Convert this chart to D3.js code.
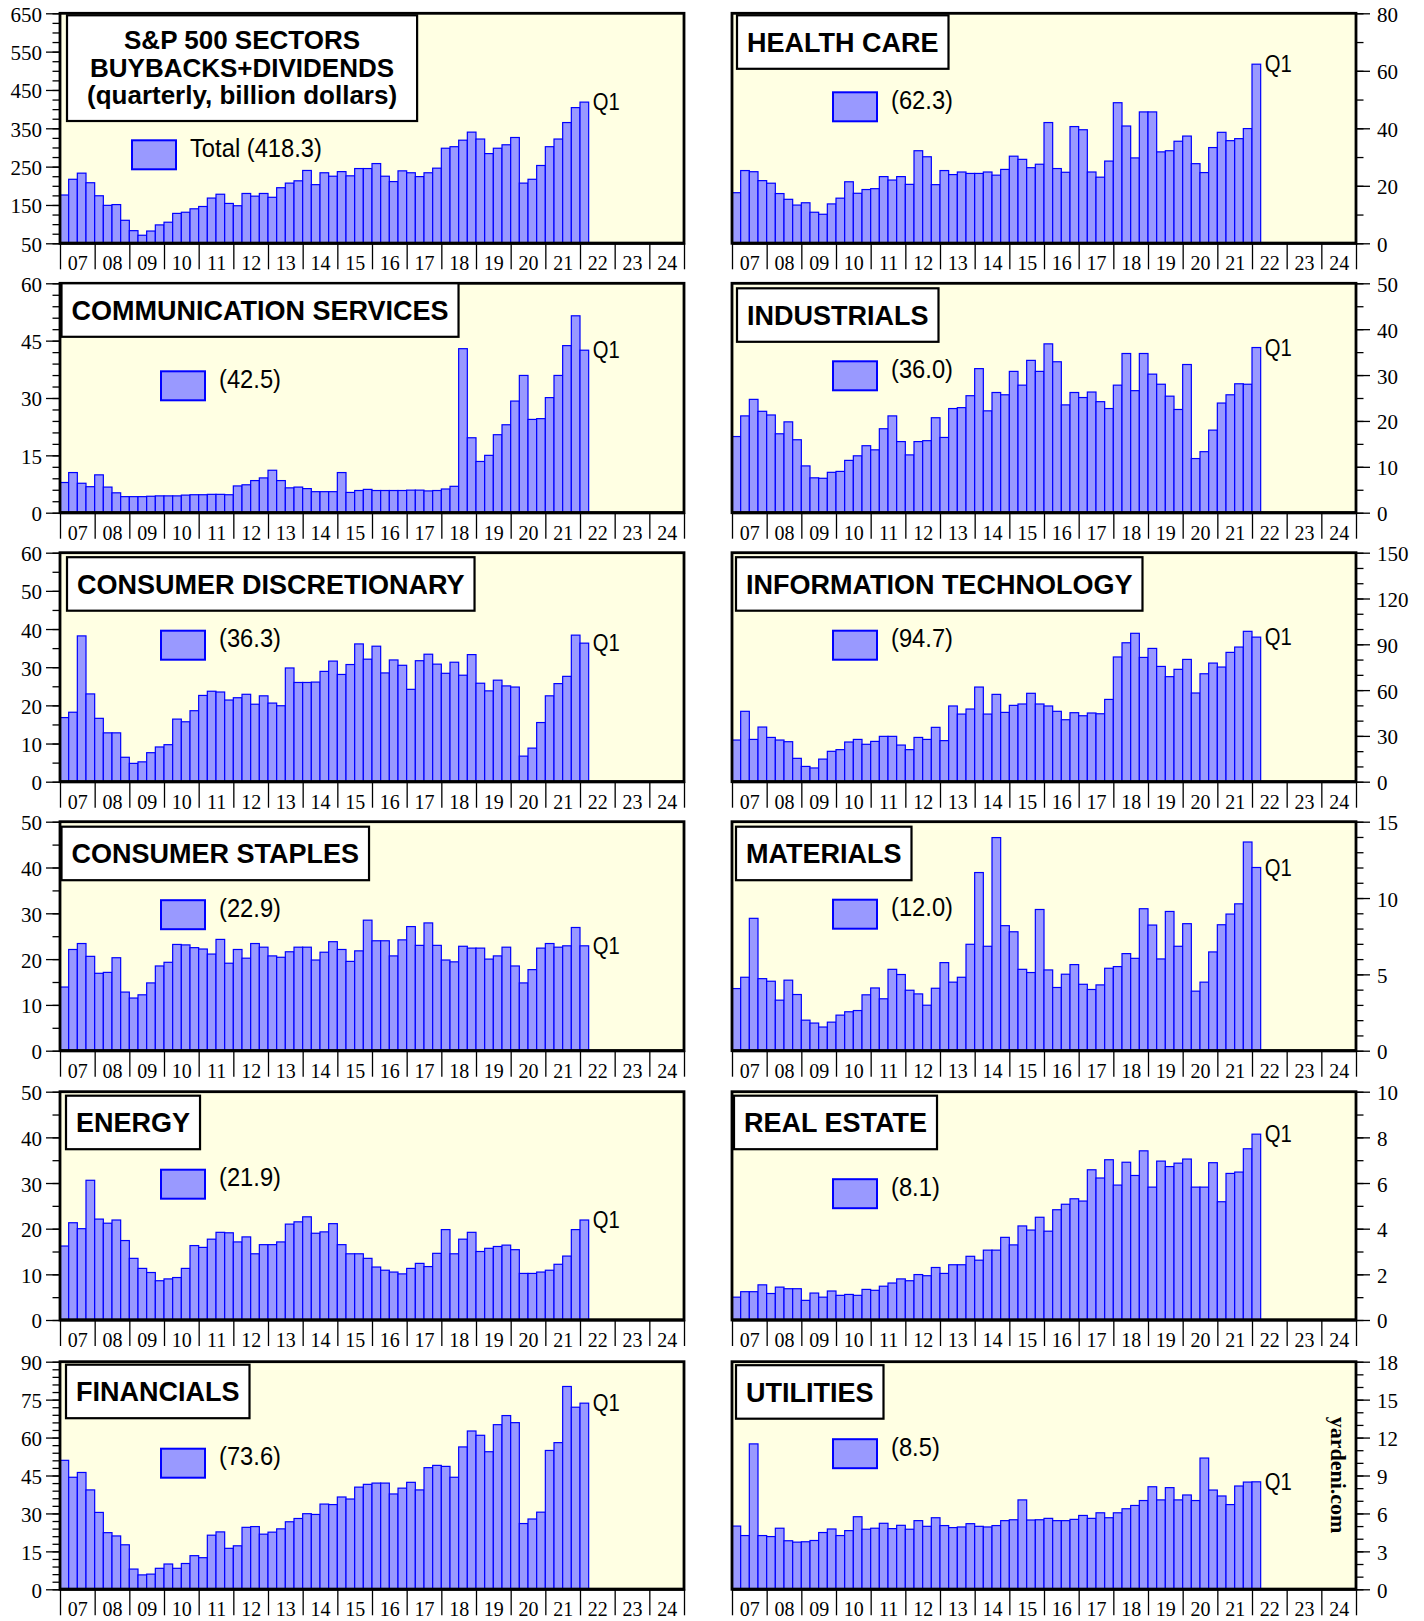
<!DOCTYPE html>
<html>
<head>
<meta charset="utf-8">
<script src="https://cdn.jsdelivr.net/npm/d3@7"></script>
<style>
  body { margin: 0; background: #fff; }
</style>
</head>
<body>
<svg id="chart" width="1424" height="1621"></svg>
<script>
// bottom axis year labels (2007 .. 2024)
var yearLabels = ['07','08','09','10','11','12','13','14','15','16','17','18','19','20','21','22','23','24'];

// quarterly values, 2007Q1 .. 2022Q1 (billion dollars)
var total = [176,217,233,208, 174,149,151,110, 83,71,82,98, 105,128,131,140, 146,168,178,154, 148,180,173,180, 170,195,207,213, 240,203,234,225, 237,226,245,245, 258,225,211,239, 234,224,234,246, 298,302,319,340, 322,284,298,307, 326,207,217,253, 302,322,365,404, 418.3];
var healthCare = [17.6,25.3,24.9,21.8, 20.9,17.3,15.3,13.3, 14.1,10.8,10.1,13.7, 15.7,21.4,17.4,18.7, 19.0,23.2,22.0,23.2, 20.5,32.2,30.1,20.4, 25.3,23.9,24.8,24.3, 24.3,24.8,23.7,25.7, 30.3,29.2,26.3,27.5, 42.0,26.0,24.7,40.6, 39.5,24.8,23.0,28.6, 48.9,40.8,29.7,45.7, 45.7,31.8,32.2,35.5, 37.3,27.7,24.6,33.3, 38.6,35.7,36.4,39.9, 62.3];
var commServices = [7.9,10.5,7.7,6.8, 9.9,6.7,5.2,4.2, 4.2,4.2,4.3,4.4, 4.4,4.4,4.6,4.7, 4.7,4.8,4.8,4.7, 7.0,7.3,8.4,9.1, 11.1,8.4,6.5,6.7, 6.3,5.5,5.5,5.5, 10.5,5.3,5.8,6.1, 5.8,5.8,5.8,5.8, 5.9,5.9,5.7,5.8, 6.2,6.9,42.9,19.6, 13.4,15.0,20.4,23.0, 29.2,35.9,24.4,24.6, 30.1,35.9,43.7,51.5, 42.5];
var industrials = [16.6,21.1,24.7,22.1, 21.3,17.2,19.8,15.9, 10.2,7.6,7.5,8.8, 9.0,11.4,12.4,14.6, 13.7,18.3,21.1,15.5, 12.6,15.5,15.7,20.7, 16.4,22.7,22.9,25.5, 31.4,22.2,26.2,25.7, 30.8,27.8,33.2,30.8, 36.8,32.9,23.5,26.2, 25.1,26.3,24.2,22.7, 27.8,34.7,26.6,34.7, 30.2,28.0,25.4,22.5, 32.3,11.8,13.3,18.0, 23.9,25.7,28.1,28.0, 36.0];
var consDisc = [16.8,18.2,38.2,23.0, 16.6,12.8,12.8,6.4, 4.8,5.2,7.6,9.1, 9.7,16.4,15.7,18.6, 22.6,23.7,23.5,21.4, 22.0,22.9,20.3,22.5, 20.6,19.9,29.8,26.0, 26.0,26.1,28.9,31.6, 28.1,30.7,36.1,32.1, 35.5,28.5,31.9,30.5, 24.2,31.7,33.4,30.8, 28.4,31.3,27.9,33.3, 25.8,23.8,26.6,25.1, 24.8,6.7,8.8,15.5, 22.5,25.7,27.6,38.4, 36.3];
var infoTech = [27.3,46.1,27.7,35.8, 29.0,27.3,26.2,15.3, 10.0,9.0,14.8,19.9, 21.0,26.0,27.7,24.5, 26.4,29.7,29.7,24.0, 21.0,29.0,27.7,35.6, 26.9,49.6,44.3,47.6, 62.0,44.3,57.2,45.4, 50.0,50.9,57.9,50.9, 49.6,46.1,40.6,45.2, 43.2,45.0,44.5,53.9, 81.7,91.0,97.2,81.4, 87.3,75.5,68.8,73.6, 80.1,58.1,70.7,77.7, 75.1,84.7,88.2,98.5, 94.7];
var consStaples = [13.9,22.1,23.4,20.6, 16.9,17.1,20.3,12.8, 11.5,12.2,14.8,18.5, 19.3,23.2,23.1,22.5, 22.2,21.1,24.3,19.1, 22.1,20.2,23.4,22.6, 20.7,20.4,21.6,22.6, 22.6,19.8,21.5,23.8, 22.1,19.5,21.8,28.5, 24.0,24.0,20.7,24.2, 27.1,23.0,27.9,23.0, 19.8,19.4,22.8,22.4, 22.4,20.0,20.7,22.6, 18.5,14.8,17.7,22.4, 23.4,22.6,22.9,26.9, 22.9];
var materials = [4.07,4.81,8.67,4.72, 4.55,3.31,4.62,3.68, 2.00,1.81,1.55,1.87, 2.33,2.55,2.63,3.66, 4.11,3.40,5.33,4.99, 3.96,3.72,2.98,4.09, 5.77,4.49,4.81,6.97, 11.67,6.84,13.96,8.19, 7.79,5.33,5.12,9.25, 5.29,4.14,5.01,5.64, 4.35,4.01,4.31,5.40, 5.51,6.36,6.05,9.30, 8.23,6.01,9.12,6.84, 8.32,3.90,4.49,6.47, 8.25,8.95,9.62,13.67, 12.0];
var energy = [16.2,21.3,20.0,30.6, 22.1,21.2,21.9,17.4, 13.5,11.3,10.4,8.6, 9.0,9.3,11.3,16.3, 15.9,17.7,19.2,19.1, 17.1,18.2,14.5,16.5, 16.5,17.1,21.0,21.5, 22.6,19.0,19.3,21.1, 16.5,14.5,14.5,13.5, 11.6,10.9,10.5,10.1, 11.3,12.4,11.7,14.6, 19.8,14.5,17.7,19.2, 15.0,15.7,16.1,16.4, 15.4,10.2,10.2,10.5, 10.9,12.2,14.0,19.8, 21.9];
var realEstate = [1.00,1.24,1.24,1.54, 1.16,1.44,1.37,1.37, 0.86,1.18,1.00,1.27, 1.08,1.12,1.08,1.34, 1.30,1.48,1.62,1.80, 1.72,1.99,1.94,2.30, 2.04,2.42,2.42,2.79, 2.62,3.06,3.06,3.62, 3.29,4.12,3.94,4.50, 3.89,4.83,5.07,5.31, 5.21,6.58,6.22,7.02, 5.91,6.91,6.33,7.41, 5.82,6.96,6.72,6.87, 7.05,5.82,5.82,6.89, 5.18,6.42,6.48,7.50, 8.14];
var financials = [51.0,44.3,46.2,39.3, 30.4,22.4,21.1,17.6, 8.0,5.7,6.0,8.3, 10.0,8.3,10.2,13.3, 12.5,21.4,22.7,16.2, 17.2,24.5,24.8,21.8, 22.6,23.9,26.7,28.0, 29.9,29.6,33.7,33.5, 36.5,35.7,40.4,41.5, 42.0,42.0,37.7,40.0, 42.3,39.3,48.1,49.0, 48.6,44.3,56.3,62.6, 60.9,54.4,65.1,68.7, 65.9,26.0,27.8,30.5, 54.9,58.0,80.2,72.0, 73.6];
var utilities = [5.0,4.25,11.5,4.25, 4.17,4.83,3.84,3.73, 3.76,3.86,4.49,4.77, 4.25,4.64,5.74,4.75, 4.83,5.22,4.80,5.06, 4.75,5.43,4.98,5.66, 5.04,4.88,4.93,5.19, 4.98,4.93,5.04,5.43, 5.50,7.07,5.48,5.50, 5.61,5.43,5.43,5.53, 5.84,5.61,6.05,5.66, 6.05,6.37,6.63,7.02, 8.11,7.07,8.04,7.07, 7.46,7.02,10.38,7.85, 7.38,6.70,8.17,8.48, 8.5];

// panel titles and legend labels, in drawing order (left, right, left, right ...)
var panelTitles = [
  ['S&P 500 SECTORS', 'BUYBACKS+DIVIDENDS', '(quarterly, billion dollars)'],
  ['HEALTH CARE'], ['COMMUNICATION SERVICES'], ['INDUSTRIALS'],
  ['CONSUMER DISCRETIONARY'], ['INFORMATION TECHNOLOGY'],
  ['CONSUMER STAPLES'], ['MATERIALS'], ['ENERGY'], ['REAL ESTATE'],
  ['FINANCIALS'], ['UTILITIES']
];
var legendLabels = ['Total (418.3)', '(62.3)', '(42.5)', '(36.0)', '(36.3)', '(94.7)',
                    '(22.9)', '(12.0)', '(21.9)', '(8.1)', '(73.6)', '(8.5)'];
var seriesList = [total, healthCare, commServices, industrials, consDisc, infoTech,
                  consStaples, materials, energy, realEstate, financials, utilities];

// y axis: [min, max, major step, minor step]
var yAxes = [[50,650,100,25], [0,80,20,10], [0,60,15,3], [0,50,10,5], [0,60,10,5], [0,150,30,10],
             [0,50,10,5], [0,15,5,1], [0,50,10,5], [0,10,2,1], [0,90,15,3], [0,18,3,1]];

// layout tweaks per panel: title box dx, dy, legend swatch dx, dy (from plot top-left)
var layout = [[7,2,72,127], [5,2,101,79], [1.5,0,101,88], [5,5,101,78], [7,4.5,101,78], [4,4.5,101,78],
              [1.5,5,101,78.5], [4,5,101,78], [6,4,101,78], [2,4,101,87.5], [6,3,101,87], [4,3.5,101,77.5]];

var colLeft = [60, 732], plotW = 624;
var rowTop = [13.3, 283.3, 552.7, 821.7, 1091.7, 1361.7];
var rowH = [230, 229.4, 229, 229, 228.3, 227.6];
var SANS = "'Liberation Sans', Arial, Helvetica, sans-serif";
var SERIF = "'Liberation Serif', 'Times New Roman', Times, serif";
var barFill = '#9999ff', barLine = '#0000ff';

var svg = d3.select('#chart');
svg.append('rect').attr('width', 1424).attr('height', 1621).attr('fill', '#fff');

function styleAxis(sel) {
  sel.select('.domain').remove();
  sel.selectAll('line').attr('stroke', '#000').attr('stroke-width', 1.3);
  sel.selectAll('text').attr('font-family', SERIF).attr('font-size', 21).attr('fill', '#000');
}

function drawPanel(values, i) {
  var col = i % 2, row = Math.floor(i / 2);
  var left = colLeft[col], top = rowTop[row], plotH = rowH[row];
  var ya = yAxes[i], lay = layout[i];
  var g = svg.append('g');

  var x = d3.scaleLinear().domain([2007, 2025]).range([left, left + plotW]);
  var y = d3.scaleLinear().domain([ya[0], ya[1]]).range([top + plotH, top]);

  // background
  g.append('rect').attr('x', left).attr('y', top).attr('width', plotW).attr('height', plotH)
    .attr('fill', '#ffffe3');

  // bars
  g.append('g').selectAll('rect').data(values).enter().append('rect')
    .attr('x', (d, k) => x(2007 + k / 4))
    .attr('width', (d, k) => x(2007 + (k + 1) / 4) - x(2007 + k / 4))
    .attr('y', d => y(d))
    .attr('height', d => y(ya[0]) - y(d))
    .attr('fill', barFill).attr('stroke', barLine).attr('stroke-width', 1.2);

  // frame
  g.append('rect').attr('x', left).attr('y', top).attr('width', plotW).attr('height', plotH)
    .attr('fill', 'none').attr('stroke', '#000').attr('stroke-width', 2.8);

  // y axis, left column labels on the left, right column on the right
  var axisFn = col == 0 ? d3.axisLeft : d3.axisRight;
  var ax = col == 0 ? left : left + plotW;
  var minorTicks = d3.range(ya[0], ya[1] + 1e-9, ya[3]);
  var majorTicks = d3.range(ya[0], ya[1] + 1e-9, ya[2]);
  g.append('g').attr('transform', 'translate(' + ax + ',0)')
    .call(axisFn(y).tickValues(minorTicks).tickSize(7.5).tickFormat(''))
    .call(styleAxis);
  g.append('g').attr('transform', 'translate(' + ax + ',0)')
    .call(axisFn(y).tickValues(majorTicks).tickSize(14).tickPadding(col == 0 ? 4 : 7).tickFormat(d3.format('d')))
    .call(styleAxis)
    .selectAll('text').attr('dy', '0.38em');

  // x axis: year boundaries and labels in the middle of each year
  g.append('g').attr('transform', 'translate(0,' + (top + plotH) + ')')
    .call(d3.axisBottom(x).tickValues(d3.range(2007, 2026)).tickSize(26).tickFormat(''))
    .call(styleAxis);
  g.append('g').attr('transform', 'translate(0,' + (top + plotH) + ')')
    .call(d3.axisBottom(x).tickValues(yearLabels.map((s, k) => 2007.5 + k)).tickSize(0).tickPadding(0)
      .tickFormat((d, k) => yearLabels[k]))
    .call(styleAxis)
    .selectAll('text').attr('font-size', 20).attr('dy', null).attr('y', 27);
  g.append('line').attr('x1', left).attr('x2', left + plotW).attr('y1', top + plotH).attr('y2', top + plotH)
    .attr('stroke', '#000').attr('stroke-width', 3);

  // Q1 label next to the last bar
  var last = values[values.length - 1];
  g.append('text')
    .attr('transform', 'translate(' + (x(2007 + values.length / 4) + 4) + ',' + (y(last) + 8) + ') scale(0.88,1)')
    .attr('font-family', SANS).attr('font-size', 23).text('Q1');

  // title box
  var lines = panelTitles[i];
  var multi = lines.length > 1;
  var tb = g.append('g');
  var lineH = 27.2;
  var boxH = multi ? 105.7 : 53.5;
  var texts = tb.selectAll('text').data(lines).enter().append('text')
    .attr('font-family', SANS).attr('font-weight', 'bold').attr('font-size', multi ? 26 : 27)
    .attr('text-anchor', 'middle').attr('dominant-baseline', 'central')
    .text(d => d);
  var maxW = 0;
  texts.each(function() { maxW = Math.max(maxW, this.getComputedTextLength()); });
  var pad = multi ? 20 : 10;
  var bx = left + lay[0], by = top + lay[1], bw = maxW + pad * 2;
  tb.insert('rect', 'text').attr('x', bx).attr('y', by).attr('width', bw).attr('height', boxH)
    .attr('fill', '#fff').attr('stroke', '#000').attr('stroke-width', 2.2);
  texts.attr('x', bx + bw / 2)
    .attr('y', (d, k) => by + boxH / 2 + (k - (lines.length - 1) / 2) * lineH + (multi ? -0.5 : 1));

  // legend swatch + label
  var sx = left + lay[2], sy = top + lay[3];
  g.append('rect').attr('x', sx).attr('y', sy).attr('width', 44).attr('height', 29)
    .attr('fill', barFill).attr('stroke', barLine).attr('stroke-width', 2);
  g.append('text')
    .attr('transform', 'translate(' + (sx + 58) + ',' + (sy + 8) + ') scale(0.95,1)')
    .attr('font-family', SANS).attr('font-size', 25).attr('dominant-baseline', 'central')
    .text(legendLabels[i]);
}

seriesList.forEach((s, i) => drawPanel(s, i));

// source credit in the utilities panel
svg.append('text')
  .attr('transform', 'translate(1331,1475) rotate(90)')
  .attr('font-family', SERIF).attr('font-weight', 'bold').attr('font-size', 22)
  .attr('text-anchor', 'middle').text('yardeni.com');
</script>
</body>
</html>
